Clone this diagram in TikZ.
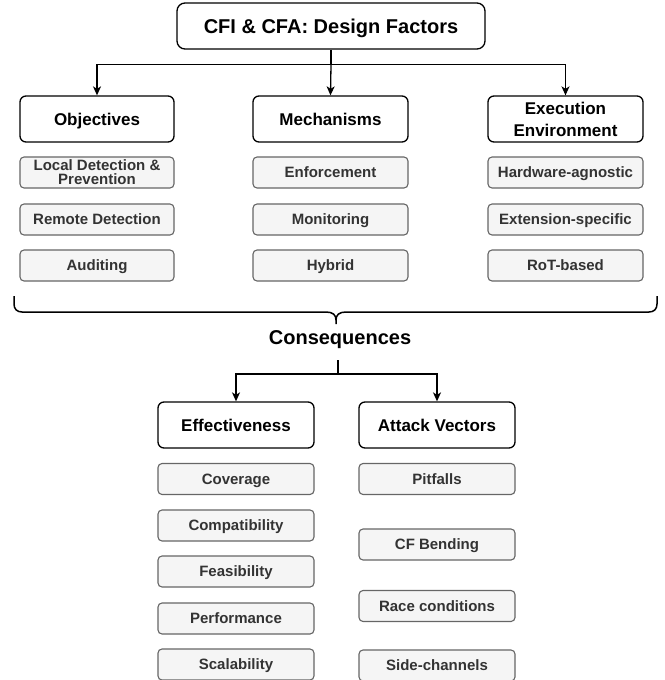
\documentclass[tikz,border=0pt]{standalone}
\usepackage{fontspec}
\setmainfont{Liberation Sans}
\usetikzlibrary{arrows.meta}
\definecolor{subfill}{HTML}{F5F5F5}
\definecolor{subdraw}{HTML}{666666}
\definecolor{subtext}{HTML}{333333}
\tikzset{
  titlebox/.style={draw=black, line width=1.3pt, rounded corners=8pt, fill=white,
    minimum width=308pt, minimum height=46pt, inner sep=0pt,
    text height=14.4pt, text depth=0pt,
    font=\fontsize{20}{24}\selectfont\bfseries},
  headbox/.style={draw=black, line width=1.3pt, rounded corners=6pt, fill=white,
    minimum width=155pt, minimum height=46pt, inner sep=0pt, align=center,
    font=\fontsize{17}{22}\selectfont\bfseries},
  headboxone/.style={headbox, text height=12.2pt, text depth=0pt},
  subbox/.style={draw=subdraw, line width=1.1pt, rounded corners=4pt, fill=subfill,
    minimum width=155pt, minimum height=31pt, inner sep=0pt, align=center,
    text=subtext, font=\fontsize{15}{14}\selectfont\bfseries},
  subboxone/.style={subbox, text height=10.8pt, text depth=0pt},
  conn/.style={line width=1.3pt, draw=black},
  arr/.style={conn, -{Stealth[length=9pt,width=8pt,inset=2.5pt]}},
  bracestyle/.style={line width=1.5pt, draw=black, line join=round},
}
\begin{document}
\begin{tikzpicture}[x=1pt,y=-1pt]
\useasboundingbox (0,0) rectangle (664,680);
% title
\node[titlebox] (title) at (331,26) {CFI \& CFA: Design Factors};
% headers
\node[headboxone, minimum width=154pt] (obj) at (97,119) {Objectives};
\node[headboxone] (mech) at (330.5,119) {Mechanisms};
\node[headbox] (exec) at (565.5,119) {Execution\\Environment};
% connectors top
\draw[conn] (title.south) -- ([yshift=-15pt]title.south) coordinate (split1);
\draw[arr] (split1) -| (obj.north);
\draw[arr] (split1) -- (mech.north);
\draw[arr] (split1) -| (exec.north);
% sub boxes column 1
\node[subbox, minimum width=154pt] (o1) at (97,172.5) {Local Detection \&\\Prevention};
\node[subboxone, minimum width=154pt] (o2) at (97,219.5) {Remote Detection};
\node[subboxone, minimum width=154pt] (o3) at (97,265.5) {Auditing};
% column 2
\node[subboxone] (m1) at (330.5,172.5) {Enforcement};
\node[subboxone] (m2) at (330.5,219.5) {Monitoring};
\node[subboxone] (m3) at (330.5,265.5) {Hybrid};
% column 3
\node[subboxone] (e1) at (565.5,172.5) {Hardware-agnostic};
\node[subboxone] (e2) at (565.5,219.5) {Extension-specific};
\node[subboxone] (e3) at (565.5,265.5) {RoT-based};
% brace
\draw[bracestyle] (14,296) -- (14,304) .. controls (14,309) and (17,312) .. (22,312) -- (326,312)
  .. controls (333,312) and (336,315) .. (336,320) -- (336,324);
\draw[bracestyle] (657,296) -- (657,304) .. controls (657,309) and (654,312) .. (649,312) -- (346,312)
  .. controls (339,312) and (336,315) .. (336,320);
% consequences
\node[font=\fontsize{20}{24}\selectfont\bfseries, inner sep=0pt, text height=14.4pt, text depth=0pt] (cons) at (340,337) {Consequences};
\coordinate (consout) at (338,360);
\node[headboxone, minimum width=156pt] (eff) at (236,425) {Effectiveness};
\node[headboxone, minimum width=156pt] (att) at (437,425) {Attack Vectors};
\draw[conn] (consout) -- (338,374) coordinate (split2);
\draw[arr] (split2) -| (eff.north);
\draw[arr] (split2) -| (att.north);
% effectiveness subs
\node[subboxone, minimum width=156pt] (f1) at (236,479) {Coverage};
\node[subboxone, minimum width=156pt] (f2) at (236,525.5) {Compatibility};
\node[subboxone, minimum width=156pt] (f3) at (236,571.5) {Feasibility};
\node[subboxone, minimum width=156pt] (f4) at (236,618.5) {Performance};
\node[subboxone, minimum width=156pt] (f5) at (236,664.5) {Scalability};
% attack subs
\node[subboxone, minimum width=156pt] (a1) at (437,479) {Pitfalls};
\node[subboxone, minimum width=156pt] (a2) at (437,544.5) {CF Bending};
\node[subboxone, minimum width=156pt] (a3) at (437,606) {Race conditions};
\node[subboxone, minimum width=156pt] (a4) at (437,665.5) {Side-channels};
\end{tikzpicture}
\end{document}
